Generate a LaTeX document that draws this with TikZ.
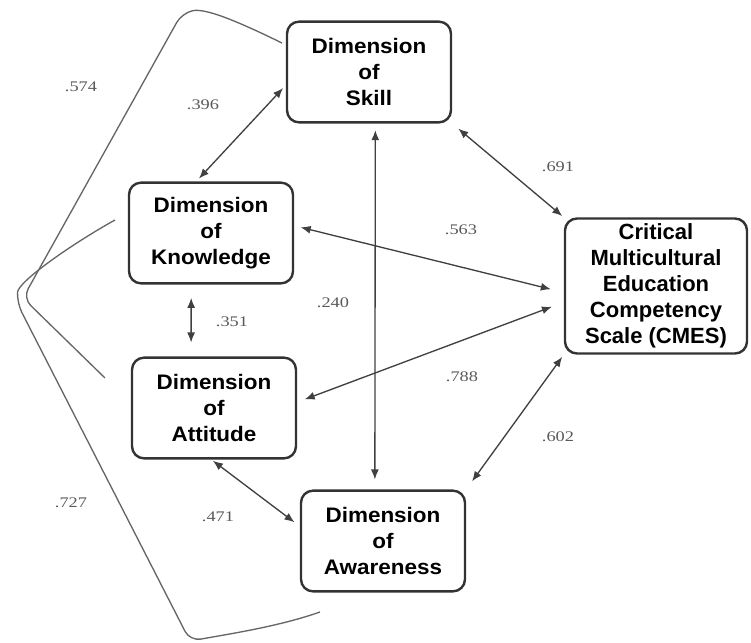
\documentclass[tikz,border=0pt]{standalone}
\usepackage{fontspec}
\usetikzlibrary{arrows.meta}
\newfontfamily\boxfont[FakeStretch=1.07]{Liberation Sans}
\newfontfamily\scalefont{Liberation Sans}
\newfontfamily\coeffont[FakeStretch=1.25]{Liberation Serif}
\begin{document}
\begin{tikzpicture}[x=0.75pt,y=-0.75pt,
	dimbox/.style={draw=black!80, line width=1.8pt, rounded corners=9pt, align=center, inner sep=0pt,
		minimum width=123pt, minimum height=75.5pt, font=\boxfont\bfseries\fontsize{15.75}{19.5}\selectfont},
	cmesbox/.style={dimbox, minimum width=136.5pt, minimum height=101.25pt, font=\scalefont\bfseries\fontsize{16.5}{19.6}\selectfont},
	coef/.style={inner sep=0pt, text=black!65, font=\coeffont\fontsize{11}{12}\selectfont},
	link/.style={draw=black!75, line width=1pt, {Latex[length=7.5pt,width=6pt]}-{Latex[length=7.5pt,width=6pt]}},
	corr/.style={draw=black!60, line width=1pt, rounded corners=8pt}]
		\useasboundingbox (0,0) rectangle (751,643);
		
		\node[dimbox] (skill) at (369,72) {Dimension\\of\\Skill};
		\node[dimbox] (know) at (211,233) {Dimension\\of\\Knowledge};
		\node[dimbox] (att) at (214,408) {Dimension\\of\\Attitude};
		\node[dimbox] (aware) at (383,541) {Dimension\\of\\Awareness};
		\node[cmesbox] (cmes) at (656,286) {Critical\\Multicultural\\Education\\Competency\\Scale (CMES)};
		
		% double headed links
		\draw[link, shorten <=3pt, shorten >=3pt] (skill.189) -- (know.106);
		\draw[link, shorten <=5pt, shorten >=7.5pt] (skill.277) -- (aware.99);
		\draw[link, shorten <=6pt, shorten >=1.5pt] (skill.south east) -- (cmes.north west);
		\draw[link, shorten <=5pt, shorten >=10pt] (know.5) -- (cmes.184);
		\draw[link, shorten <=6pt, shorten >=9.5pt] (att.4) -- (cmes.190);
		\draw[link, shorten <=1.5pt, shorten >=5pt] (att.267) -- (aware.170);
		\draw[link, shorten <=7.5pt, shorten >=2pt] (aware.north east) -- (cmes.south west);
		\draw[link, shorten <=10pt, shorten >=10.5pt] (know.249) -- (att.114);
		
		% long curves on the left
		\coordinate (saA) at (282,43);
		\coordinate (saB) at (105,378);
		\coordinate (kaA) at (115,220);
		\coordinate (kaB) at (320,612);
		\draw[corr] (saA) .. controls (235,20) and (205,8) .. (182,13) -- (23,298) -- (saB);
		\draw[corr] (kaA) .. controls (70,245) and (18,282) .. (17,303) -- (190,641) .. controls (235,633) and (280,626) .. (kaB);
		
		\node[coef] (c574) at (81,87) {.574};
		\node[coef] (c396) at (203,105) {.396};
		\node[coef] (c691) at (558,167) {.691};
		\node[coef] (c563) at (461,230) {.563};
		\node[coef] (c240) at (333,303) {.240};
		\node[coef] (c351) at (232,322) {.351};
		\node[coef] (c788) at (462,377) {.788};
		\node[coef] (c602) at (558,437) {.602};
		\node[coef] (c727) at (71,503) {.727};
		\node[coef] (c471) at (218,517) {.471};
\end{tikzpicture}
\end{document}
